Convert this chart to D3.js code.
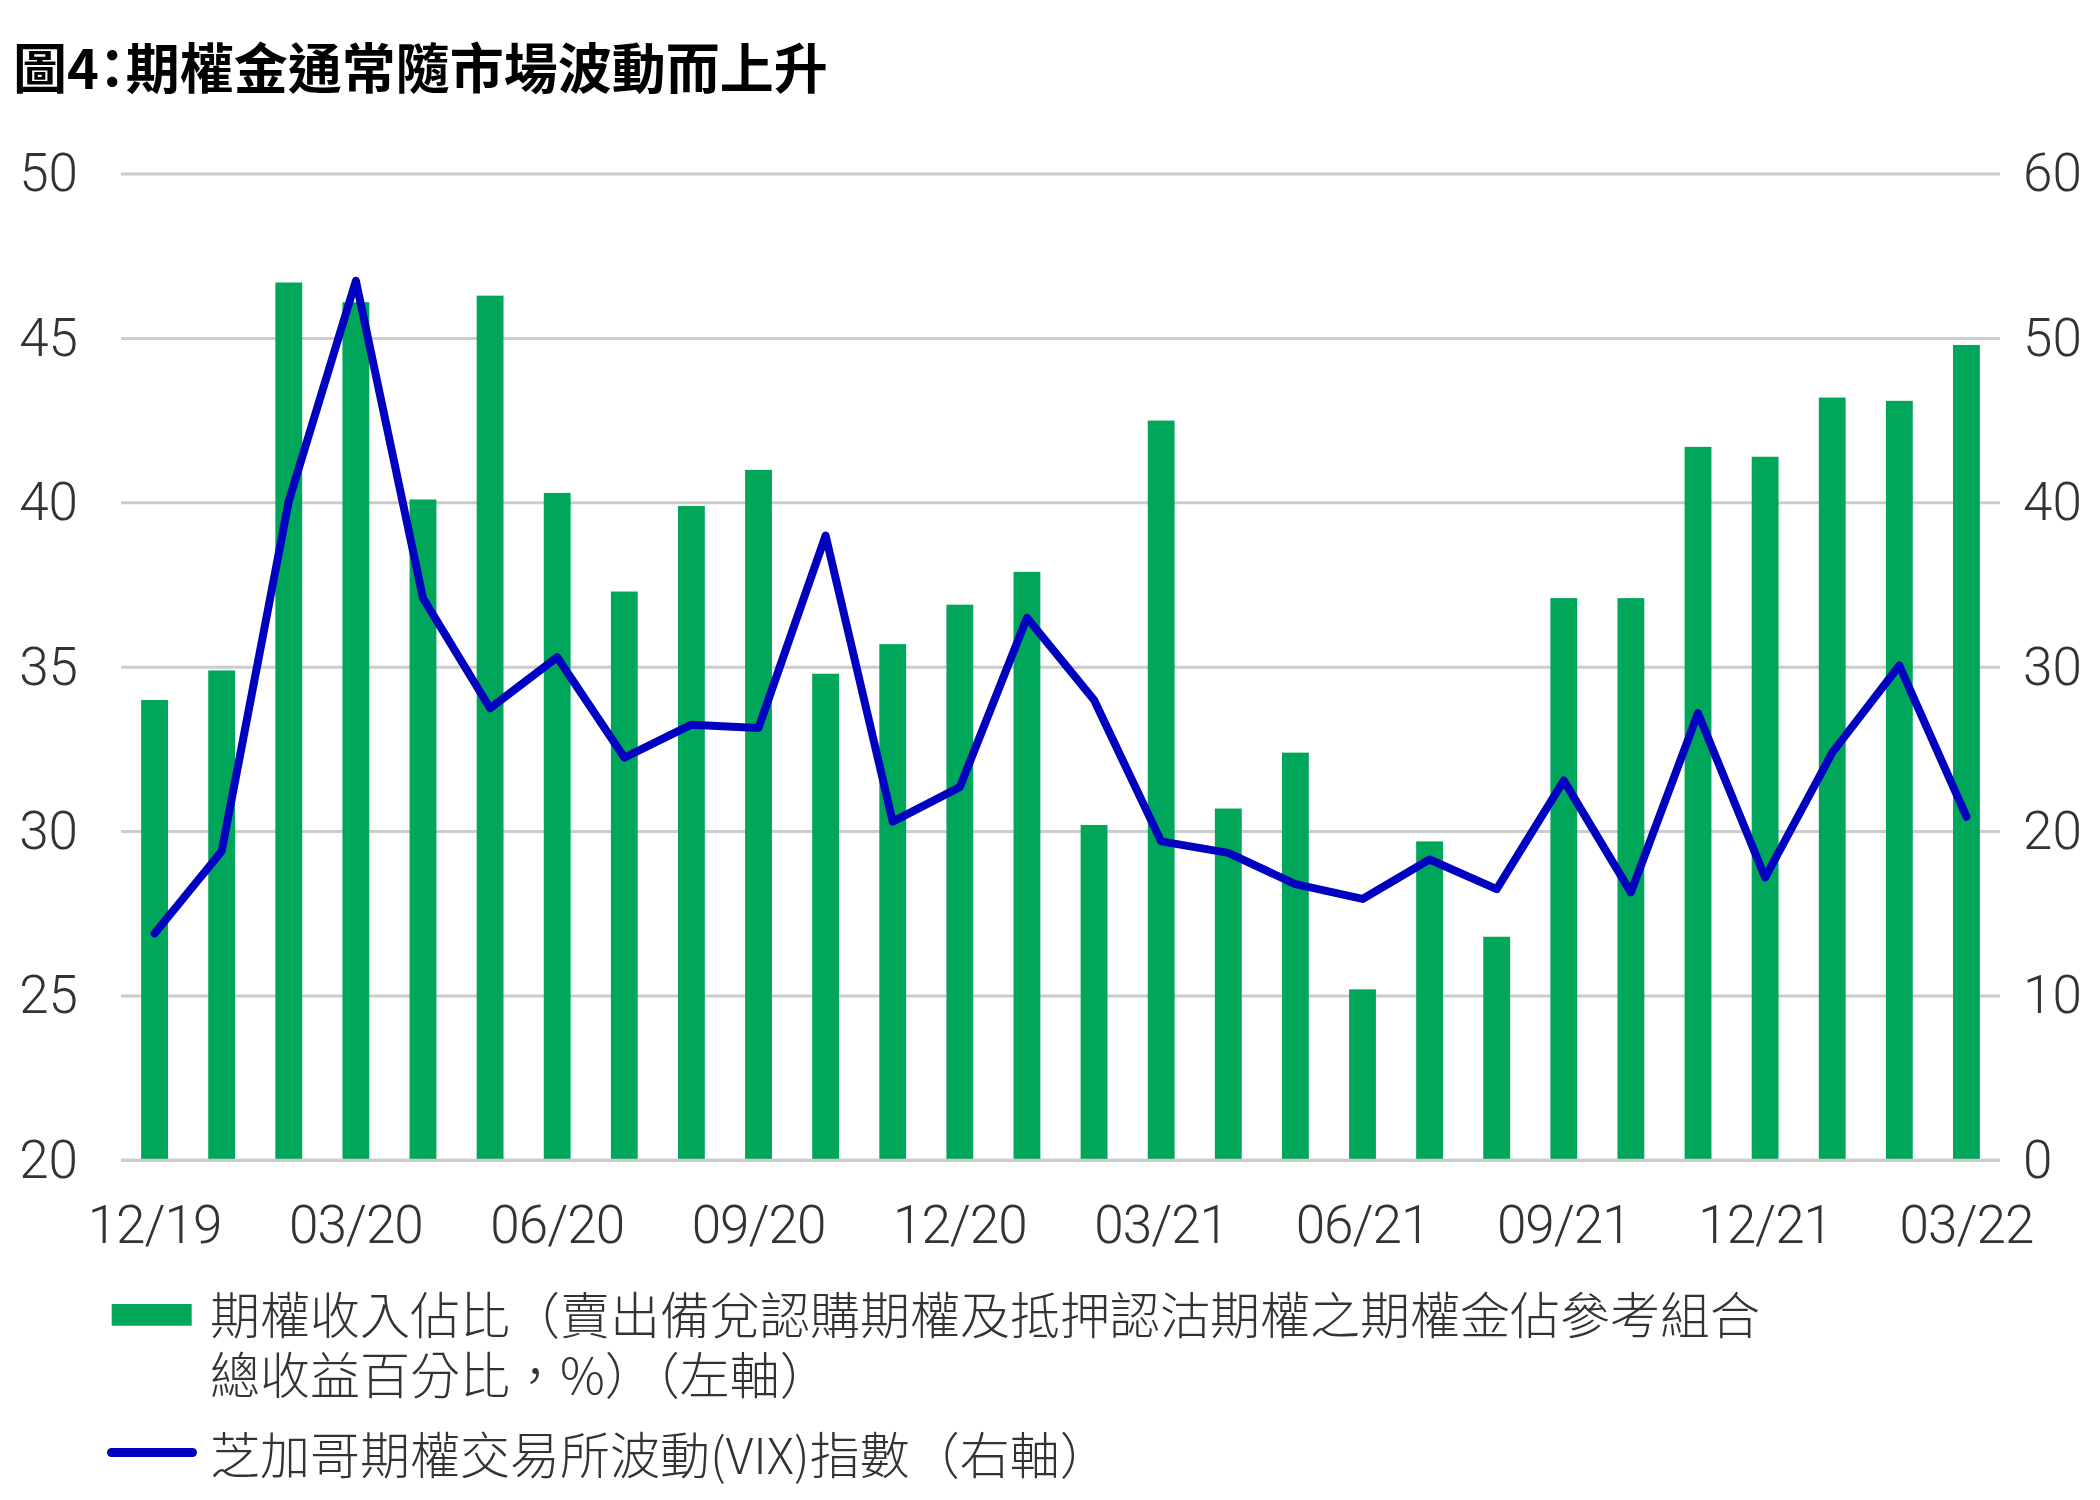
<!DOCTYPE html>
<html><head><meta charset="utf-8">
<script src="https://cdn.jsdelivr.net/npm/d3@7/dist/d3.min.js"></script>
<style>
html,body{margin:0;padding:0;background:#fff;}
svg{display:block;}
</style></head>
<body><svg id="chart" width="2100" height="1500"></svg>
<script>
// ---- data ----
const months = ["12/19","01/20","02/20","03/20","04/20","05/20","06/20","07/20","08/20","09/20","10/20","11/20",
  "12/20","01/21","02/21","03/21","04/21","05/21","06/21","07/21","08/21","09/21","10/21","11/21","12/21","01/22","02/22","03/22"];
const optionIncomeShare = [34.0, 34.9, 46.7, 46.1, 40.1, 46.3, 40.3, 37.3, 39.9, 41.0, 34.8, 35.7,
  36.9, 37.9, 30.2, 42.5, 30.7, 32.4, 25.2, 29.7, 26.8, 37.1, 37.1, 41.7, 41.4, 43.2, 43.1, 44.8];
const vixIndex = [13.8, 18.8, 40.1, 53.5, 34.2, 27.5, 30.6, 24.5, 26.5, 26.3, 38.0, 20.6,
  22.7, 33.0, 28.0, 19.4, 18.7, 16.8, 15.9, 18.3, 16.5, 23.1, 16.3, 27.2, 17.2, 24.8, 30.1, 20.9];
const xTickLabels = ["12/19","03/20","06/20","09/20","12/20","03/21","06/21","09/21","12/21","03/22"];
const leftTicks = [20, 25, 30, 35, 40, 45, 50];
const rightTicks = [0, 10, 20, 30, 40, 50, 60];
const titleText = "圖4：期權金通常隨市場波動而上升";
const legendBarText1 = "期權收入佔比（賣出備兌認購期權及抵押認沽期權之期權金佔參考組合";
const legendBarText2 = "總收益百分比，%）（左軸）";
const legendLineText = "芝加哥期權交易所波動(VIX)指數（右軸）";

// ---- styles ----
const GREEN = "#00a65a", BLUE = "#0000c0", GRID = "#cccccc", TXT = "#333333";
const CJK = "'Noto Sans CJK TC','Noto Sans CJK SC',sans-serif";
const NUM = "Roboto,'Noto Sans',sans-serif";

const svg = d3.select("#chart");
const L = 121, R = 2000, T = 174, B = 1160.3;

const x = d3.scaleBand().domain(months).range([L, R]).paddingInner(0.6).paddingOuter(0.3);
const yL = d3.scaleLinear().domain([20, 50]).range([B, T]);
const yR = d3.scaleLinear().domain([0, 60]).range([B, T]);

// title (half-width colon via 'halt')
svg.append("text").attr("x", 13).attr("y", 89)
  .style("font-family", CJK).style("font-weight", 700).style("font-size", "54px")
  .style("font-feature-settings", "'halt' 1").attr("fill", "#000")
  .text(titleText);

// gridlines
svg.append("g").selectAll("line").data(leftTicks).join("line")
  .attr("x1", L).attr("x2", R).attr("y1", d => yL(d)).attr("y2", d => yL(d))
  .attr("stroke", GRID).attr("stroke-width", 3);

// bars
svg.append("g").selectAll("rect").data(optionIncomeShare).join("rect")
  .attr("x", (d, i) => x(months[i])).attr("width", x.bandwidth())
  .attr("y", d => yL(d)).attr("height", d => yL(20) - yL(d))
  .attr("fill", GREEN);

// baseline
svg.append("line").attr("x1", L).attr("x2", R).attr("y1", yL(20)).attr("y2", yL(20))
  .attr("stroke", GRID).attr("stroke-width", 3);

// VIX line
const line = d3.line().x((d, i) => x(months[i]) + x.bandwidth() / 2).y(d => yR(d));
svg.append("path").datum(vixIndex).attr("d", line)
  .attr("fill", "none").attr("stroke", BLUE).attr("stroke-width", 8)
  .attr("stroke-linejoin", "round").attr("stroke-linecap", "round");

// axes
function styleAxis(g) {
  g.select(".domain").remove();
  g.selectAll("text").attr("fill", TXT).style("font-family", NUM).style("font-weight", 300).style("font-size", "53px");
}
svg.append("g").attr("transform", "translate(78,0)")
  .call(d3.axisLeft(yL).tickValues(leftTicks).tickSize(0).tickPadding(0))
  .call(styleAxis).selectAll("text").attr("dy", "0.32em");
svg.append("g").attr("transform", "translate(2023,0)")
  .call(d3.axisRight(yR).tickValues(rightTicks).tickSize(0).tickPadding(0))
  .call(styleAxis).selectAll("text").attr("dy", "0.32em");
svg.append("g").attr("transform", "translate(0,1243)")
  .call(d3.axisBottom(x).tickValues(xTickLabels).tickSize(0).tickPadding(0))
  .call(styleAxis).selectAll("text").attr("y", 0).attr("dy", 0).style("letter-spacing", "-1px");
svg.selectAll(".tick line").remove();

// legend
svg.append("rect").attr("x", 111.7).attr("y", 1304).attr("width", 80).attr("height", 21.7).attr("fill", GREEN);
const lg = svg.append("g").style("font-family", CJK).style("font-weight", 300).style("font-size", "50px").attr("fill", TXT);
lg.append("text").attr("x", 210).attr("y", 1333.5).text(legendBarText1);
lg.append("text").attr("x", 210).attr("y", 1393.5).text(legendBarText2);
svg.append("line").attr("x1", 111.5).attr("x2", 192.5).attr("y1", 1452.5).attr("y2", 1452.5)
  .attr("stroke", BLUE).attr("stroke-width", 9).attr("stroke-linecap", "round");
lg.append("text").attr("x", 210).attr("y", 1473.5).text(legendLineText);
</script>
</body></html>
